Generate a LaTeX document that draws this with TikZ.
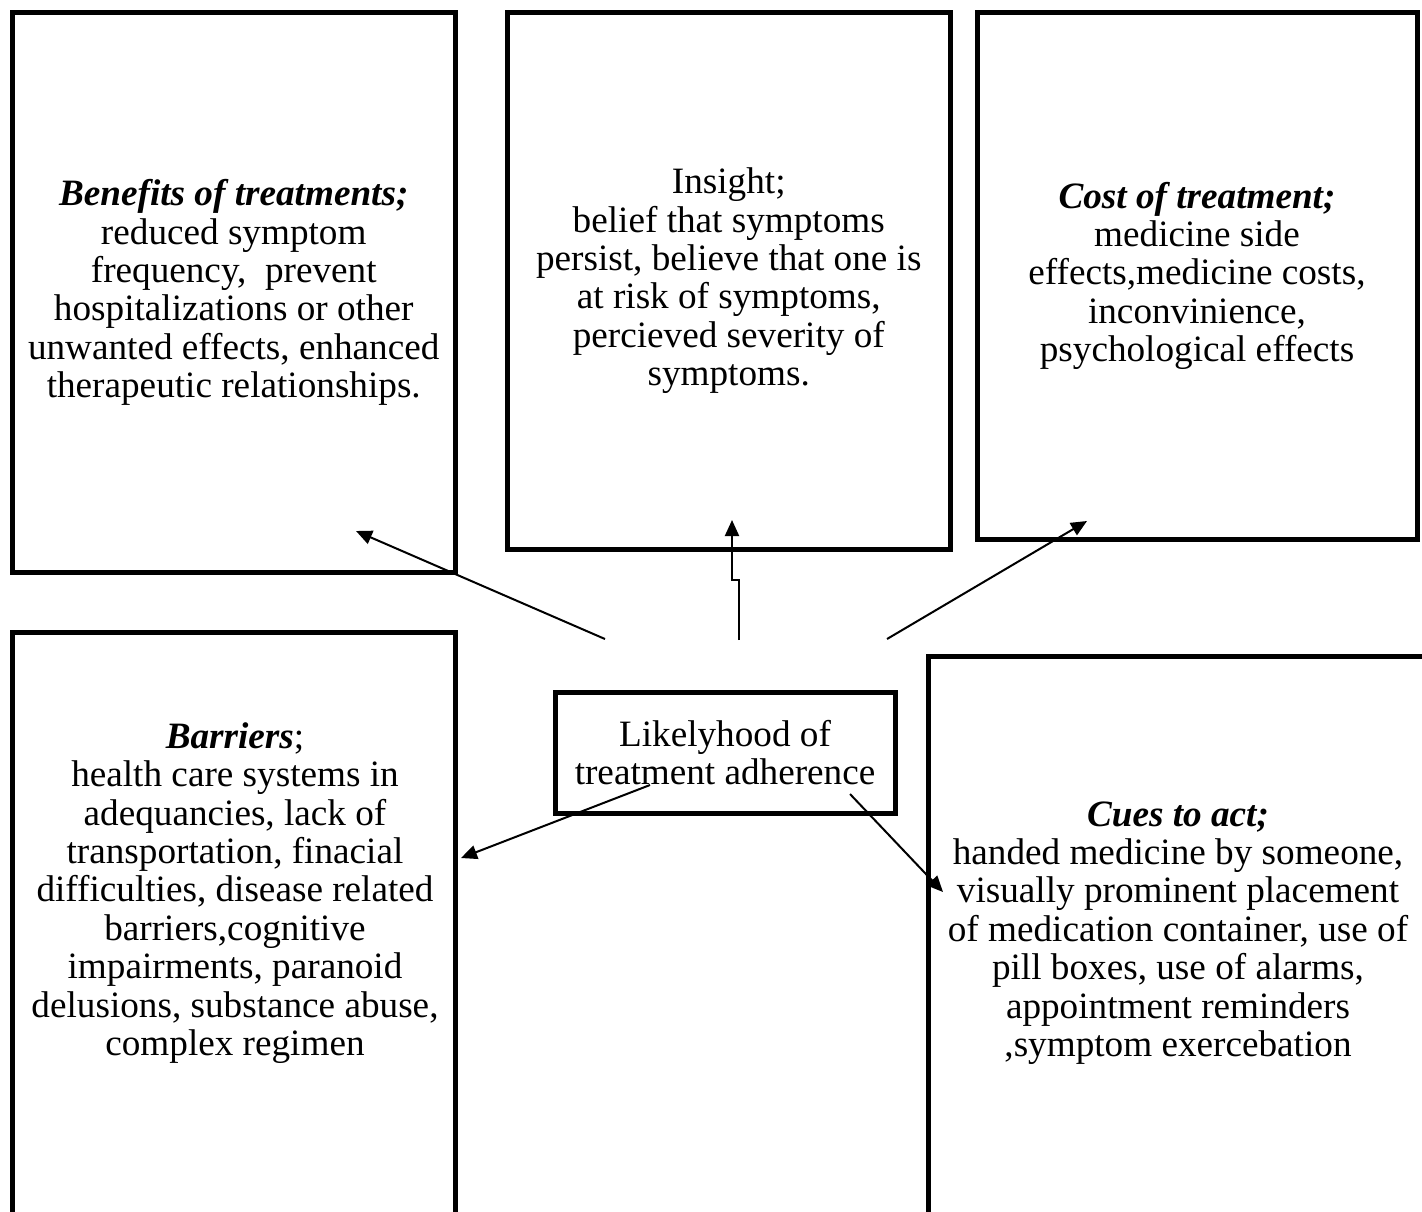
\documentclass[tikz,border=0pt]{standalone}
\usepackage{fontspec}
\setmainfont{Liberation Serif}
\usetikzlibrary{arrows.meta}
\begin{document}
\begin{tikzpicture}[x=0.5pt,y=-0.5pt,
  box/.style={draw=black,line width=2.5pt,inner sep=0pt,align=center,
    font=\fontsize{18.6}{19.2}\selectfont},
  lbl/.style={inner sep=0pt,align=center,font=\fontsize{18.6}{19.2}\selectfont},
  arr/.style={draw=black,line width=1pt,-{Triangle[length=8pt,width=7pt]}}]
\useasboundingbox (0,0) rectangle (1422,1211);
\clip (0,0) rectangle (1422,1211);
% top boxes
\node[box,minimum width=221.25pt,minimum height=280pt] (benefits) at (233.75,292.5)
  {\textbf{\textit{Benefits of treatments;}}\\reduced symptom\\frequency,\ \ prevent\\hospitalizations or other\\unwanted effects, enhanced\\therapeutic relationships.};
\node[box,minimum width=221.25pt,minimum height=268.25pt] (insight) at (728.75,280.75)
  {Insight;\\belief that symptoms\\persist, believe that one is\\at risk of symptoms,\\percieved severity of\\symptoms.};
\node[box,minimum width=220pt,minimum height=263.25pt] (cost) at (1197,275.75)
  {\textbf{\textit{Cost of treatment;}}\\medicine side\\effects,medicine costs,\\inconvinience,\\psychological effects};
% bottom boxes (cut off by the page edge)
\node[box,minimum width=221.25pt,minimum height=309pt] (barriers) at (233.75,941) {};
\node[lbl] (barrierstext) at (235,893)
  {\textbf{\textit{Barriers}};\\health care systems in\\adequancies, lack of\\transportation, finacial\\difficulties, disease related\\barriers,cognitive\\impairments, paranoid\\delusions, substance abuse,\\complex regimen};
\node[box,minimum width=261pt,minimum height=297pt] (cues) at (1189,953) {};
\node[lbl] (cuestext) at (1178,933)
  {\textbf{\textit{Cues to act;}}\\handed medicine by someone,\\visually prominent placement\\of medication container, use of\\pill boxes, use of alarms,\\appointment reminders\\,symptom exercebation};
% centre box
\node[box,minimum width=170pt,minimum height=60.5pt] (centre) at (725,752.5)
  {Likelyhood of\\treatment adherence};
% arrow ends
\coordinate (s1) at (605,639);
\coordinate (e1) at (356,531);
\coordinate (s2) at (739,640);
\coordinate (k2) at (739,580);
\coordinate (j2) at (732,580);
\coordinate (e2) at (732,520);
\coordinate (s3) at (887,639);
\coordinate (e3) at (1087,521);
\coordinate (s4) at (650,785);
\coordinate (e4) at (461,858);
\coordinate (s5) at (850,794);
\coordinate (e5) at (943,892);
\draw[arr] (s1) -- (e1);
\draw[arr] (s2) -- (k2) -- (j2) -- (e2);
\draw[arr] (s3) -- (e3);
\draw[arr] (s4) -- (e4);
\draw[arr] (s5) -- (e5);
\end{tikzpicture}
\end{document}
